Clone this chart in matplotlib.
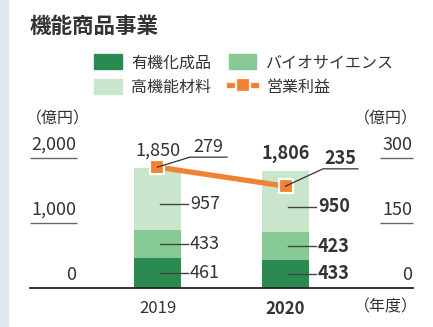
import matplotlib.pyplot as plt
import matplotlib.patches as mpatches
import matplotlib.lines as mlines
import numpy as np

plt.rcParams['font.family'] = ['Noto Sans CJK JP', 'DejaVu Sans']

years = ['2019', '2020']
segments = ['有機化成品', 'バイオサイエンス', '高機能材料']
organic = [461, 433]
bio = [433, 423]
functional = [957, 950]
totals = [1850, 1806]
profit = [279, 235]
profit_label = '営業利益'

colors = ['#2a8a4f', '#86c995', '#c9e5cb']
orange = '#f08232'
txt = '#333333'
num_fs = 13

fig = plt.figure(figsize=(4.33, 3.27), dpi=100)
W, H = 433, 327

# left accent band
fig.patches.append(mpatches.Rectangle((0, 0), 8 / W, 1, transform=fig.transFigure,
                                      color='#dfe6ee', zorder=0))

fig.text(30 / W, 1 - 26 / H, '機能商品事業', fontsize=15.5, fontweight='bold',
         color=txt, va='center', ha='left')

ax = fig.add_axes([30 / W, 1 - 288 / H, 383 / W, 130 / H])
ax.set_xlim(-0.996, 1.996)
ax.set_ylim(0, 2000)
for s in ['top', 'left', 'right']:
    ax.spines[s].set_visible(False)
ax.spines['bottom'].set_color('#222222')
ax.spines['bottom'].set_linewidth(1.3)
ax.set_xticks([])
ax.set_yticks([])
ax.patch.set_alpha(0)

ax2 = ax.twinx()
ax2.set_ylim(0, 300)
ax2.axis('off')

x = np.arange(len(years))
bw = 0.367
stack = [organic, bio, functional]
bottom = np.zeros(len(years))
for vals, c in zip(stack, colors):
    ax.bar(x, vals, bw, bottom=bottom, color=c, zorder=2)
    bottom += np.array(vals)

# short gridline stubs under axis labels
ax.hlines([1000, 2000], -0.996, -0.629, color='#666666', lw=1, clip_on=False)
ax2.hlines([150, 300], 1.738, 1.996, color='#666666', lw=1, clip_on=False)

for v, lab in zip([0, 1000, 2000], ['0', '1,000', '2,000']):
    ax.annotate(lab, (-0.635, v), xytext=(0, 9.5), textcoords='offset points',
                ha='right', va='center', fontsize=num_fs, color=txt, annotation_clip=False)
for v, lab in zip([0, 150, 300], ['0', '150', '300']):
    ax2.annotate(lab, (1.99, v), xytext=(0, 9.5), textcoords='offset points',
                 ha='right', va='center', fontsize=num_fs, color=txt, annotation_clip=False)

fig.text(26 / W, 1 - 119 / H, '（億円）', fontsize=11.5, color=txt, va='center', ha='left')
fig.text(418 / W, 1 - 119 / H, '（億円）', fontsize=11.5, color=txt, va='center', ha='right')
fig.text(418 / W, 1 - 307 / H, '（年度）', fontsize=11.5, color=txt, va='center', ha='right')

for i, yr in enumerate(years):
    bold = 'bold' if i == len(years) - 1 else 'normal'
    ax.annotate(yr, (x[i], 0), xytext=(0, -15), textcoords='offset points',
                ha='center', va='center', fontsize=12, color=txt, fontweight=bold)
    # segment labels with leader lines
    base = 0
    for k, vals in enumerate(stack):
        mid = base + vals[i] / 2
        if k == len(stack) - 1:
            mid -= 80
        ax.plot([x[i] + 0.02, x[i] + 0.238], [mid, mid], color='#444444', lw=1, zorder=3)
        ax.text(x[i] + 0.254, mid, f'{vals[i]:,}', ha='left', va='center',
                fontsize=num_fs, color=txt, fontweight=bold)
        base += vals[i]
    ax.annotate(f'{totals[i]:,}', (x[i], totals[i]), xytext=(0, 12),
                textcoords='offset points', ha='center', va='center',
                fontsize=num_fs, color=txt, fontweight=bold, annotation_clip=False)

# operating profit line
ax2.plot(x, profit, color=orange, lw=3.8, zorder=4, solid_capstyle='butt')
ax2.plot(x, profit, ls='none', marker='s', ms=9.5, mfc=orange, mec='white',
         mew=1.6, zorder=5)

lead = [(0.254, 302, 0.543), (1.293, 275, 1.566)]
for i, (lx, ly, ux) in enumerate(lead):
    bold = 'bold' if i == len(years) - 1 else 'normal'
    ax2.plot([x[i], lx, ux], [profit[i], ly, ly], color='#333333', lw=0.9,
             zorder=6, clip_on=False)
    ax2.text((lx + ux) / 2, ly + 3, f'{profit[i]}', ha='center', va='bottom',
             fontsize=num_fs, color=txt, fontweight=bold, clip_on=False)

handles = [mpatches.Patch(color=colors[0], label=segments[0]),
           mpatches.Patch(color=colors[2], label=segments[2]),
           mpatches.Patch(color=colors[1], label=segments[1]),
           mlines.Line2D([], [], color=orange, lw=3.8, marker='s', ms=9.5,
                         mfc=orange, mec='white', mew=1.6, label=profit_label)]
fig.legend(handles=handles, ncol=2, loc='upper left',
           bbox_to_anchor=(80 / W, 1 - 40 / H), frameon=False, fontsize=11.5,
           handlelength=1.7, handleheight=1.06, handletextpad=0.62,
           columnspacing=1.1, labelspacing=0.45, labelcolor=txt)

fig.savefig('out.png', dpi=100)
